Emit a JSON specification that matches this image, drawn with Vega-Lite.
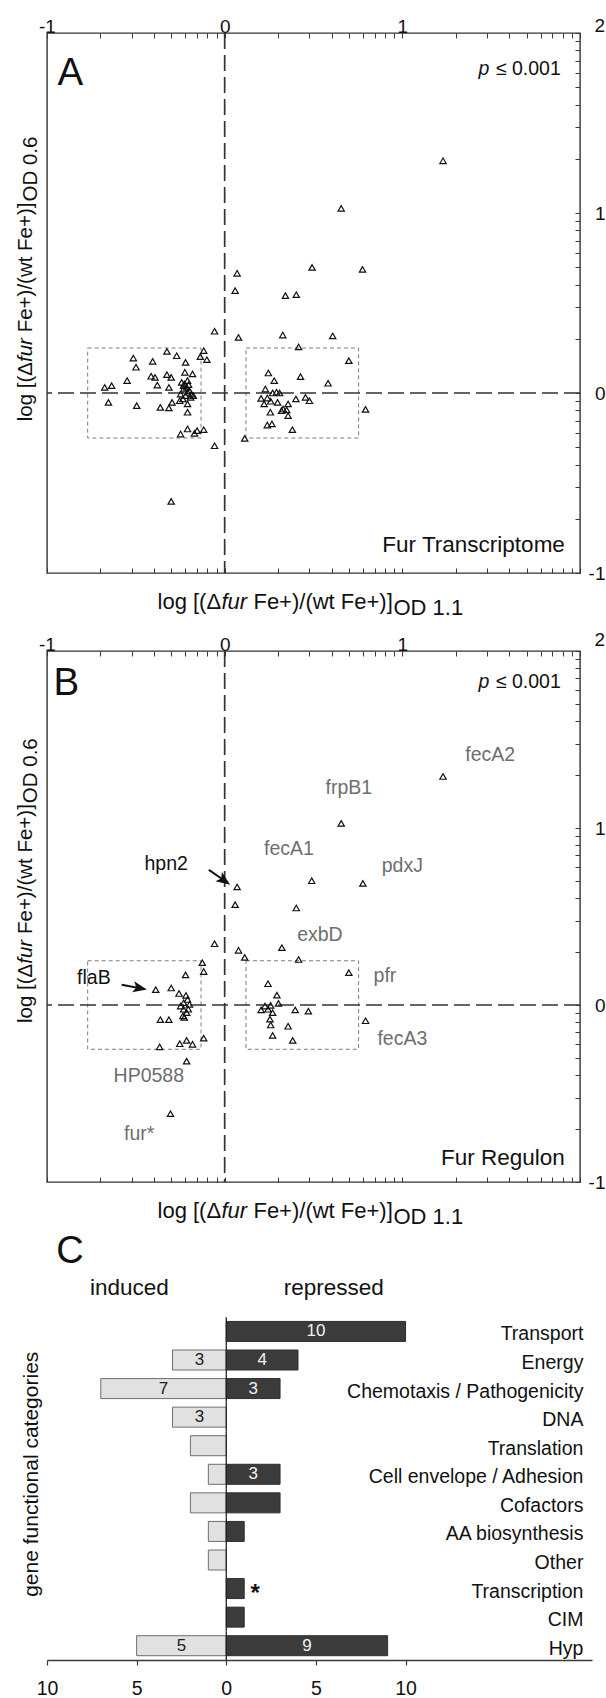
{
"$schema": "https://vega.github.io/schema/vega-lite/v6.json",
"background": "white",
"padding": {"left": 15, "top": 16, "right": 0, "bottom": 0},
"bounds": "flush",
"spacing": 78,
"config": {
  "font": "Liberation Sans",
  "view": {"stroke": null},
  "axis": {"labelFont": "Liberation Sans", "labelColor": "#111", "grid": false, "title": null, "labelFlush": false, "labelOverlap": false, "tickColor": "#3a3a3a", "domainColor": "#3a3a3a"},
  "text": {"font": "Liberation Sans", "color": "#111"}
},
"datasets": {
  "ptsA": [
    {"x":0.070,"y":0.665},{"x":0.059,"y":0.569},{"x":0.492,"y":0.698},{"x":0.776,"y":0.687},{"x":0.342,"y":0.541},{"x":0.403,"y":0.546},{"x":-0.057,"y":0.343},{"x":0.078,"y":0.309},{"x":0.327,"y":0.322},{"x":0.608,"y":0.317},{"x":0.416,"y":0.256},{"x":0.699,"y":0.180},{"x":-0.118,"y":0.235},{"x":-0.100,"y":0.185},{"x":-0.137,"y":0.202},{"x":-0.325,"y":0.231},{"x":-0.270,"y":0.207},{"x":-0.220,"y":0.170},{"x":-0.514,"y":0.194},{"x":-0.499,"y":0.143},{"x":-0.405,"y":0.176},{"x":-0.414,"y":0.093},{"x":-0.392,"y":0.087},{"x":-0.325,"y":0.102},{"x":-0.301,"y":0.087},{"x":-0.224,"y":0.115},{"x":-0.181,"y":0.106},{"x":-0.549,"y":0.069},{"x":-0.379,"y":0.044},{"x":-0.314,"y":0.031},{"x":-0.675,"y":0.031},{"x":-0.636,"y":0.041},{"x":-0.654,"y":-0.052},{"x":-0.495,"y":-0.070},{"x":-0.362,"y":-0.080},{"x":-0.314,"y":-0.083},{"x":-0.296,"y":-0.052},{"x":-0.253,"y":-0.043},{"x":-0.209,"y":-0.061},{"x":-0.209,"y":-0.107},{"x":-0.248,"y":-0.228},{"x":-0.209,"y":-0.200},{"x":-0.170,"y":-0.224},{"x":-0.155,"y":-0.209},{"x":-0.118,"y":-0.204},{"x":-0.057,"y":-0.293},
    {"x":-0.242,"y":0.059},{"x":-0.227,"y":0.050},{"x":-0.209,"y":0.069},{"x":-0.231,"y":0.022},{"x":-0.214,"y":0.031},{"x":-0.198,"y":0.013},{"x":-0.187,"y":-0.006},{"x":-0.248,"y":-0.006},{"x":-0.220,"y":-0.015},{"x":-0.192,"y":-0.024},{"x":-0.235,"y":-0.033},{"x":-0.176,"y":-0.015},{"x":-0.209,"y":0.004},{"x":-0.231,"y":0.041},{"x":-0.203,"y":0.046},
    {"x":0.246,"y":0.111},{"x":0.279,"y":0.069},{"x":0.427,"y":0.091},{"x":0.582,"y":0.054},{"x":0.229,"y":0.022},{"x":0.270,"y":0.000},{"x":0.292,"y":0.004},{"x":0.309,"y":0.000},{"x":0.205,"y":-0.030},{"x":0.240,"y":-0.028},{"x":0.222,"y":-0.061},{"x":0.259,"y":-0.046},{"x":0.298,"y":-0.052},{"x":0.329,"y":-0.089},{"x":0.357,"y":-0.061},{"x":0.401,"y":-0.033},{"x":0.455,"y":-0.024},{"x":0.477,"y":-0.043},{"x":0.320,"y":-0.098},{"x":0.349,"y":-0.094},{"x":0.257,"y":-0.107},{"x":0.357,"y":-0.126},{"x":0.240,"y":-0.178},{"x":0.266,"y":-0.172},{"x":0.381,"y":-0.204},{"x":0.113,"y":-0.252},{"x":0.793,"y":-0.091},
    {"x":1.229,"y":1.290},{"x":0.656,"y":1.026},{"x":-0.301,"y":-0.602}
  ],
  "ptsB": [
    {"x":1.229,"y":1.291},{"x":0.656,"y":1.026},{"x":0.490,"y":0.702},{"x":0.778,"y":0.687},{"x":0.070,"y":0.667},{"x":0.059,"y":0.567},{"x":0.403,"y":0.548},{"x":0.322,"y":0.324},{"x":-0.057,"y":0.346},{"x":0.078,"y":0.309},{"x":0.113,"y":0.269},{"x":0.416,"y":0.257},{"x":-0.126,"y":0.239},
    {"x":-0.118,"y":0.189},{"x":0.699,"y":0.183},{"x":-0.220,"y":0.170},{"x":-0.388,"y":0.087},{"x":-0.301,"y":0.096},{"x":-0.257,"y":0.065},{"x":-0.218,"y":0.054},{"x":-0.209,"y":0.031},{"x":-0.231,"y":0.013},{"x":-0.198,"y":0.004},{"x":-0.248,"y":-0.006},{"x":-0.205,"y":-0.024},{"x":-0.231,"y":-0.024},{"x":-0.214,"y":-0.043},{"x":-0.235,"y":-0.061},{"x":-0.227,"y":-0.070},{"x":-0.362,"y":-0.083},{"x":-0.314,"y":-0.083},{"x":-0.366,"y":-0.237},{"x":-0.253,"y":-0.219},{"x":-0.214,"y":-0.200},{"x":-0.181,"y":-0.222},{"x":-0.118,"y":-0.187},{"x":-0.214,"y":-0.317},
    {"x":0.244,"y":0.120},{"x":0.294,"y":0.056},{"x":0.303,"y":0.009},{"x":0.227,"y":-0.006},{"x":0.259,"y":-0.002},{"x":0.205,"y":-0.028},{"x":0.244,"y":-0.024},{"x":0.270,"y":-0.043},{"x":0.255,"y":-0.080},{"x":0.259,"y":-0.113},{"x":0.357,"y":-0.120},{"x":0.397,"y":-0.028},{"x":0.471,"y":-0.035},{"x":0.270,"y":-0.172},{"x":0.383,"y":-0.200},{"x":0.793,"y":-0.089},
    {"x":-0.305,"y":-0.614}
  ],
  "boxes": [
    {"x1":-0.771,"x2":-0.133,"y1":-0.25,"y2":0.25},
    {"x1":0.120,"x2":0.754,"y1":-0.25,"y2":0.25}
  ],
  "genesB": [
    {"gene":"fecA2","x":1.495,"y":1.41,"marked":"plain"},
    {"gene":"frpB1","x":0.699,"y":1.228,"marked":"plain"},
    {"gene":"fecA1","x":0.362,"y":0.879,"marked":"plain"},
    {"gene":"pdxJ","x":1.0,"y":0.785,"marked":"plain"},
    {"gene":"hpn2","x":-0.329,"y":0.794,"marked":"arrow"},
    {"gene":"exbD","x":0.536,"y":0.395,"marked":"plain"},
    {"gene":"pfr","x":0.902,"y":0.164,"marked":"plain"},
    {"gene":"flaB","x":-0.736,"y":0.154,"marked":"arrow"},
    {"gene":"fecA3","x":1.0,"y":-0.190,"marked":"plain"},
    {"gene":"HP0588","x":-0.427,"y":-0.401,"marked":"plain"},
    {"gene":"fur*","x":-0.481,"y":-0.731,"marked":"plain"}
  ],
  "arrowsB": [
    {"gene":"hpn2","x":-0.089,"y":0.763,"x2":-0.006,"y2":0.706},
    {"gene":"flaB","x":-0.580,"y":0.115,"x2":-0.482,"y2":0.096}
  ],
  "bars": [
    {"cat":"Transport","group":"repressed","n":10,"label":"10"},
    {"cat":"Energy","group":"induced","n":-3,"label":"3"},
    {"cat":"Energy","group":"repressed","n":4,"label":"4"},
    {"cat":"Chemotaxis / Pathogenicity","group":"induced","n":-7,"label":"7"},
    {"cat":"Chemotaxis / Pathogenicity","group":"repressed","n":3,"label":"3"},
    {"cat":"DNA","group":"induced","n":-3,"label":"3"},
    {"cat":"Translation","group":"induced","n":-2,"label":""},
    {"cat":"Cell envelope / Adhesion","group":"induced","n":-1,"label":""},
    {"cat":"Cell envelope / Adhesion","group":"repressed","n":3,"label":"3"},
    {"cat":"Cofactors","group":"induced","n":-2,"label":""},
    {"cat":"Cofactors","group":"repressed","n":3,"label":""},
    {"cat":"AA biosynthesis","group":"induced","n":-1,"label":""},
    {"cat":"AA biosynthesis","group":"repressed","n":1,"label":""},
    {"cat":"Other","group":"induced","n":-1,"label":""},
    {"cat":"Transcription","group":"repressed","n":1,"label":""},
    {"cat":"CIM","group":"repressed","n":1,"label":""},
    {"cat":"Hyp","group":"induced","n":-5,"label":"5"},
    {"cat":"Hyp","group":"repressed","n":9,"label":"9"}
  ],
  "cats": [
    {"cat":"Transport"},{"cat":"Energy"},{"cat":"Chemotaxis / Pathogenicity"},{"cat":"DNA"},{"cat":"Translation"},{"cat":"Cell envelope / Adhesion"},{"cat":"Cofactors"},{"cat":"AA biosynthesis"},{"cat":"Other"},{"cat":"Transcription"},{"cat":"CIM"},{"cat":"Hyp"}
  ]
},
"vconcat": [
{
  "width": 533, "height": 540,
  "view": {"stroke": "#333333", "strokeWidth": 1.4},
  "resolve": {"axis": {"x": "independent", "y": "independent"}},
  "layer": [
    {"data": {"name": "boxes"}, "mark": {"type": "rect", "fillOpacity": 0, "stroke": "#7e7e7e", "strokeDash": [4, 3], "strokeWidth": 1},
     "encoding": {"x": {"field": "x1", "type": "quantitative", "scale": {"domain": [-1, 2], "nice": false, "zero": false}, "axis": {"orient": "top", "values": [-1,-0.699,-0.5229,-0.3979,-0.301,-0.2218,-0.1549,-0.0969,-0.0458,0,0.301,0.4771,0.6021,0.699,0.7782,0.8451,0.9031,0.9542,1,1.301,1.4771,1.6021,1.699,1.7782,1.8451,1.9031,1.9542,2], "labelExpr": "datum.value == -1 ? '-1' : datum.value == 0 ? '0' : datum.value == 1 ? '1' : ''", "tickSize": -5, "labelPadding": 2, "domain": false, "labelFontSize": 19, "labelAngle": 0}},
                  "x2": {"field": "x2"},
                  "y": {"field": "y1", "type": "quantitative", "scale": {"domain": [-1, 2], "nice": false, "zero": false}, "axis": {"orient": "right", "values": [-1,-0.699,-0.5229,-0.3979,-0.301,-0.2218,-0.1549,-0.0969,-0.0458,0,0.301,0.4771,0.6021,0.699,0.7782,0.8451,0.9031,0.9542,1,1.301,1.4771,1.6021,1.699,1.7782,1.8451,1.9031,1.9542,2], "labelExpr": "datum.value == -1 ? '-1' : datum.value == 0 ? '0' : datum.value == 1 ? '1' : ''", "tickSize": -5, "labelPadding": 30, "labelAlign": "right", "labelBaseline": "middle", "domain": false, "labelFontSize": 19}},
                  "y2": {"field": "y2"}}},
    {"data": {"values": [{}]}, "mark": {"type": "rule", "strokeDash": [16, 6], "strokeWidth": 1.7, "color": "#333333"},
     "encoding": {"x": {"datum": 0, "type": "quantitative", "axis": {"orient": "bottom", "values": [-1,-0.699,-0.5229,-0.3979,-0.301,-0.2218,-0.1549,-0.0969,-0.0458,0,0.301,0.4771,0.6021,0.699,0.7782,0.8451,0.9031,0.9542,1,1.301,1.4771,1.6021,1.699,1.7782,1.8451,1.9031,1.9542,2], "labels": false, "tickSize": -5, "domain": false}}}},
    {"data": {"values": [{}]}, "mark": {"type": "rule", "strokeDash": [16, 6], "strokeWidth": 1.7, "color": "#333333"},
     "encoding": {"y": {"datum": 0, "type": "quantitative", "axis": null}}},
    {"data": {"name": "ptsA"}, "mark": {"type": "point", "shape": "triangle-up", "size": 40, "filled": false, "color": "#111", "strokeWidth": 1.2, "opacity": 1},
     "encoding": {"x": {"field": "x", "type": "quantitative", "axis": null}, "y": {"field": "y", "type": "quantitative", "axis": null}}},
    {"data": {"values": [{}]}, "mark": {"type": "text", "text": "2", "fontSize": 19, "align": "right", "baseline": "middle"},
     "encoding": {"x": {"datum": 2.141, "type": "quantitative", "axis": null}, "y": {"datum": 2.039, "type": "quantitative", "axis": null}}},
    {"data": {"values": [{}]}, "mark": {"type": "text", "text": "A", "fontSize": 38.5, "align": "left", "baseline": "alphabetic"},
     "encoding": {"x": {"datum": -0.941, "type": "quantitative", "axis": null}, "y": {"datum": 1.711, "type": "quantitative", "axis": null}}},
    {"data": {"values": [{}]}, "mark": {"type": "text", "text": "p", "fontStyle": "italic", "fontSize": 19.5, "align": "right", "baseline": "alphabetic"},
     "encoding": {"x": {"datum": 1.49, "type": "quantitative", "axis": null}, "y": {"datum": 1.768, "type": "quantitative", "axis": null}}},
    {"data": {"values": [{}]}, "mark": {"type": "text", "text": "≤ 0.001", "fontSize": 19.5, "align": "right", "baseline": "alphabetic"},
     "encoding": {"x": {"datum": 1.892, "type": "quantitative", "axis": null}, "y": {"datum": 1.768, "type": "quantitative", "axis": null}}},
    {"data": {"values": [{}]}, "mark": {"type": "text", "text": "Fur Transcriptome", "fontSize": 22.5, "align": "right", "baseline": "alphabetic"},
     "encoding": {"x": {"datum": 1.915, "type": "quantitative", "axis": null}, "y": {"datum": -0.885, "type": "quantitative", "axis": null}}},
    {"data": {"values": [{}]}, "mark": {"type": "text", "text": "log [(Δ", "fontSize": 22, "align": "left", "baseline": "alphabetic"},
     "encoding": {"x": {"datum": -0.378, "type": "quantitative", "axis": null}, "y": {"datum": -1.2, "type": "quantitative", "axis": null}}},
    {"data": {"values": [{}]}, "mark": {"type": "text", "text": "fur", "fontStyle": "italic", "fontSize": 22, "align": "left", "baseline": "alphabetic"},
     "encoding": {"x": {"datum": -0.018, "type": "quantitative", "axis": null}, "y": {"datum": -1.2, "type": "quantitative", "axis": null}}},
    {"data": {"values": [{}]}, "mark": {"type": "text", "text": "Fe+)/(wt Fe+)]", "fontSize": 22, "align": "left", "baseline": "alphabetic"},
     "encoding": {"x": {"datum": 0.162, "type": "quantitative", "axis": null}, "y": {"datum": -1.2, "type": "quantitative", "axis": null}}},
    {"data": {"values": [{}]}, "mark": {"type": "text", "text": "OD 1.1", "fontSize": 22, "align": "left", "baseline": "alphabetic"},
     "encoding": {"x": {"datum": 0.950, "type": "quantitative", "axis": null}, "y": {"datum": -1.232, "type": "quantitative", "axis": null}}},
    {"data": {"values": [{}]}, "mark": {"type": "text", "text": "log [(Δ", "fontSize": 20.5, "angle": 270, "align": "left", "baseline": "middle"},
     "encoding": {"x": {"datum": -1.116, "type": "quantitative", "axis": null}, "y": {"datum": -0.157, "type": "quantitative", "axis": null}}},
    {"data": {"values": [{}]}, "mark": {"type": "text", "text": "fur", "fontStyle": "italic", "fontSize": 20.5, "angle": 270, "align": "left", "baseline": "middle"},
     "encoding": {"x": {"datum": -1.116, "type": "quantitative", "axis": null}, "y": {"datum": 0.172, "type": "quantitative", "axis": null}}},
    {"data": {"values": [{}]}, "mark": {"type": "text", "text": "Fe+)/(wt Fe+)]", "fontSize": 20.5, "angle": 270, "align": "left", "baseline": "middle"},
     "encoding": {"x": {"datum": -1.116, "type": "quantitative", "axis": null}, "y": {"datum": 0.337, "type": "quantitative", "axis": null}}},
    {"data": {"values": [{}]}, "mark": {"type": "text", "text": "OD 0.6", "fontSize": 20.5, "angle": 270, "align": "left", "baseline": "middle"},
     "encoding": {"x": {"datum": -1.092, "type": "quantitative", "axis": null}, "y": {"datum": 1.064, "type": "quantitative", "axis": null}}}
  ]
},
{
  "width": 533, "height": 531,
  "view": {"stroke": "#333333", "strokeWidth": 1.4},
  "resolve": {"axis": {"x": "independent", "y": "independent"}},
  "layer": [
    {"data": {"name": "boxes"}, "mark": {"type": "rect", "fillOpacity": 0, "stroke": "#7e7e7e", "strokeDash": [4, 3], "strokeWidth": 1},
     "encoding": {"x": {"field": "x1", "type": "quantitative", "scale": {"domain": [-1, 2], "nice": false, "zero": false}, "axis": {"orient": "top", "values": [-1,-0.699,-0.5229,-0.3979,-0.301,-0.2218,-0.1549,-0.0969,-0.0458,0,0.301,0.4771,0.6021,0.699,0.7782,0.8451,0.9031,0.9542,1,1.301,1.4771,1.6021,1.699,1.7782,1.8451,1.9031,1.9542,2], "labelExpr": "datum.value == -1 ? '-1' : datum.value == 0 ? '0' : datum.value == 1 ? '1' : ''", "tickSize": -5, "labelPadding": 2, "domain": false, "labelFontSize": 19, "labelAngle": 0}},
                  "x2": {"field": "x2"},
                  "y": {"field": "y1", "type": "quantitative", "scale": {"domain": [-1, 2], "nice": false, "zero": false}, "axis": {"orient": "right", "values": [-1,-0.699,-0.5229,-0.3979,-0.301,-0.2218,-0.1549,-0.0969,-0.0458,0,0.301,0.4771,0.6021,0.699,0.7782,0.8451,0.9031,0.9542,1,1.301,1.4771,1.6021,1.699,1.7782,1.8451,1.9031,1.9542,2], "labelExpr": "datum.value == -1 ? '-1' : datum.value == 0 ? '0' : datum.value == 1 ? '1' : ''", "tickSize": -5, "labelPadding": 30, "labelAlign": "right", "labelBaseline": "middle", "domain": false, "labelFontSize": 19}},
                  "y2": {"field": "y2"}}},
    {"data": {"values": [{}]}, "mark": {"type": "rule", "strokeDash": [16, 6], "strokeWidth": 1.7, "color": "#333333"},
     "encoding": {"x": {"datum": 0, "type": "quantitative", "axis": {"orient": "bottom", "values": [-1,-0.699,-0.5229,-0.3979,-0.301,-0.2218,-0.1549,-0.0969,-0.0458,0,0.301,0.4771,0.6021,0.699,0.7782,0.8451,0.9031,0.9542,1,1.301,1.4771,1.6021,1.699,1.7782,1.8451,1.9031,1.9542,2], "labels": false, "tickSize": -5, "domain": false}}}},
    {"data": {"values": [{}]}, "mark": {"type": "rule", "strokeDash": [16, 6], "strokeWidth": 1.7, "color": "#333333"},
     "encoding": {"y": {"datum": 0, "type": "quantitative", "axis": null}}},
    {"data": {"name": "ptsB"}, "mark": {"type": "point", "shape": "triangle-up", "size": 40, "filled": false, "color": "#111", "strokeWidth": 1.2, "opacity": 1},
     "encoding": {"x": {"field": "x", "type": "quantitative", "axis": null}, "y": {"field": "y", "type": "quantitative", "axis": null}}},
    {"data": {"name": "genesB"}, "mark": {"type": "text", "fontSize": 19.5, "align": "center", "baseline": "middle"},
     "encoding": {"x": {"field": "x", "type": "quantitative", "axis": null}, "y": {"field": "y", "type": "quantitative", "axis": null}, "text": {"field": "gene"},
                  "color": {"field": "marked", "type": "nominal", "scale": {"domain": ["plain", "arrow"], "range": ["#6e6e6e", "#111111"]}, "legend": null}}},
    {"data": {"name": "arrowsB"}, "mark": {"type": "rule", "strokeWidth": 2, "color": "#111"},
     "encoding": {"x": {"field": "x", "type": "quantitative", "axis": null}, "y": {"field": "y", "type": "quantitative", "axis": null}, "x2": {"field": "x2"}, "y2": {"field": "y2"}}},
    {"data": {"values": [{}]}, "mark": {"type": "point", "shape": "M0,-1L0.7,0.75L0,0.35L-0.7,0.75Z", "size": 256, "filled": true, "color": "#111", "opacity": 1, "angle": 125},
     "encoding": {"x": {"datum": -0.006, "type": "quantitative", "axis": null}, "y": {"datum": 0.706, "type": "quantitative", "axis": null}}},
    {"data": {"values": [{}]}, "mark": {"type": "point", "shape": "M0,-1L0.7,0.75L0,0.35L-0.7,0.75Z", "size": 256, "filled": true, "color": "#111", "opacity": 1, "angle": 101},
     "encoding": {"x": {"datum": -0.482, "type": "quantitative", "axis": null}, "y": {"datum": 0.096, "type": "quantitative", "axis": null}}},
    {"data": {"values": [{}]}, "mark": {"type": "text", "text": "2", "fontSize": 19, "align": "right", "baseline": "middle"},
     "encoding": {"x": {"datum": 2.141, "type": "quantitative", "axis": null}, "y": {"datum": 2.064, "type": "quantitative", "axis": null}}},
    {"data": {"values": [{}]}, "mark": {"type": "text", "text": "B", "fontSize": 38.5, "align": "left", "baseline": "alphabetic"},
     "encoding": {"x": {"datum": -0.963, "type": "quantitative", "axis": null}, "y": {"datum": 1.751, "type": "quantitative", "axis": null}}},
    {"data": {"values": [{}]}, "mark": {"type": "text", "text": "p", "fontStyle": "italic", "fontSize": 19.5, "align": "right", "baseline": "alphabetic"},
     "encoding": {"x": {"datum": 1.49, "type": "quantitative", "axis": null}, "y": {"datum": 1.791, "type": "quantitative", "axis": null}}},
    {"data": {"values": [{}]}, "mark": {"type": "text", "text": "≤ 0.001", "fontSize": 19.5, "align": "right", "baseline": "alphabetic"},
     "encoding": {"x": {"datum": 1.892, "type": "quantitative", "axis": null}, "y": {"datum": 1.791, "type": "quantitative", "axis": null}}},
    {"data": {"values": [{}]}, "mark": {"type": "text", "text": "Fur Regulon", "fontSize": 22.5, "align": "right", "baseline": "alphabetic"},
     "encoding": {"x": {"datum": 1.915, "type": "quantitative", "axis": null}, "y": {"datum": -0.902, "type": "quantitative", "axis": null}}},
    {"data": {"values": [{}]}, "mark": {"type": "text", "text": "log [(Δ", "fontSize": 22, "align": "left", "baseline": "alphabetic"},
     "encoding": {"x": {"datum": -0.378, "type": "quantitative", "axis": null}, "y": {"datum": -1.203, "type": "quantitative", "axis": null}}},
    {"data": {"values": [{}]}, "mark": {"type": "text", "text": "fur", "fontStyle": "italic", "fontSize": 22, "align": "left", "baseline": "alphabetic"},
     "encoding": {"x": {"datum": -0.018, "type": "quantitative", "axis": null}, "y": {"datum": -1.203, "type": "quantitative", "axis": null}}},
    {"data": {"values": [{}]}, "mark": {"type": "text", "text": "Fe+)/(wt Fe+)]", "fontSize": 22, "align": "left", "baseline": "alphabetic"},
     "encoding": {"x": {"datum": 0.162, "type": "quantitative", "axis": null}, "y": {"datum": -1.203, "type": "quantitative", "axis": null}}},
    {"data": {"values": [{}]}, "mark": {"type": "text", "text": "OD 1.1", "fontSize": 22, "align": "left", "baseline": "alphabetic"},
     "encoding": {"x": {"datum": 0.950, "type": "quantitative", "axis": null}, "y": {"datum": -1.237, "type": "quantitative", "axis": null}}},
    {"data": {"values": [{}]}, "mark": {"type": "text", "text": "log [(Δ", "fontSize": 20.5, "angle": 270, "align": "left", "baseline": "middle"},
     "encoding": {"x": {"datum": -1.116, "type": "quantitative", "axis": null}, "y": {"datum": -0.102, "type": "quantitative", "axis": null}}},
    {"data": {"values": [{}]}, "mark": {"type": "text", "text": "fur", "fontStyle": "italic", "fontSize": 20.5, "angle": 270, "align": "left", "baseline": "middle"},
     "encoding": {"x": {"datum": -1.116, "type": "quantitative", "axis": null}, "y": {"datum": 0.233, "type": "quantitative", "axis": null}}},
    {"data": {"values": [{}]}, "mark": {"type": "text", "text": "Fe+)/(wt Fe+)]", "fontSize": 20.5, "angle": 270, "align": "left", "baseline": "middle"},
     "encoding": {"x": {"datum": -1.116, "type": "quantitative", "axis": null}, "y": {"datum": 0.401, "type": "quantitative", "axis": null}}},
    {"data": {"values": [{}]}, "mark": {"type": "text", "text": "OD 0.6", "fontSize": 20.5, "angle": 270, "align": "left", "baseline": "middle"},
     "encoding": {"x": {"datum": -1.092, "type": "quantitative", "axis": null}, "y": {"datum": 1.140, "type": "quantitative", "axis": null}}}
  ]
},
{
  "width": 545, "height": 400,
  "view": {"stroke": null},
  "resolve": {"scale": {"x": "independent"}, "axis": {"x": "independent"}},
  "layer": [
    {"layer": [
      {"data": {"name": "bars"}, "mark": {"type": "bar", "height": {"band": 0.7}, "strokeWidth": 1},
       "encoding": {
         "y": {"field": "cat", "type": "nominal", "scale": {"type": "band", "domain": ["_C", "_head", "Transport", "Energy", "Chemotaxis / Pathogenicity", "DNA", "Translation", "Cell envelope / Adhesion", "Cofactors", "AA biosynthesis", "Other", "Transcription", "CIM", "Hyp"], "paddingInner": 0, "paddingOuter": 0}, "axis": null},
         "x": {"field": "n", "type": "quantitative", "scale": {"domain": [-10, 20.4], "nice": false}, "axis": {"orient": "bottom", "values": [-10, -5, 0, 5, 10], "labelExpr": "'' + abs(datum.value)", "tickSize": 5, "labelPadding": 14, "labelFontSize": 19.5, "domainWidth": 1.3, "tickWidth": 1.2}},
         "fill": {"field": "group", "type": "nominal", "scale": {"domain": ["induced", "repressed"], "range": ["#e1e1e1", "#3b3b3b"]}, "legend": null},
         "stroke": {"field": "group", "type": "nominal", "scale": {"domain": ["induced", "repressed"], "range": ["#6e6e6e", "#2e2e2e"]}, "legend": null}}},
      {"data": {"name": "cats"}, "mark": {"type": "tick", "orient": "vertical", "size": 28.6, "thickness": 1.3, "color": "#222", "opacity": 1},
       "encoding": {"x": {"datum": 0, "type": "quantitative"}, "y": {"field": "cat", "type": "nominal"}}},
      {"data": {"name": "cats"}, "mark": {"type": "text", "align": "right", "baseline": "middle", "fontSize": 19.5, "dy": 3},
       "encoding": {"x": {"datum": 19.92, "type": "quantitative"}, "y": {"field": "cat", "type": "nominal"}, "text": {"field": "cat"}}},
      {"data": {"values": [{}]}, "mark": {"type": "text", "text": "*", "fontSize": 24, "fontWeight": "bold", "align": "center", "baseline": "middle", "dy": 5},
       "encoding": {"x": {"datum": 1.61, "type": "quantitative"}, "y": {"datum": "Transcription", "type": "nominal"}}},
      {"data": {"values": [{}]}, "mark": {"type": "text", "text": "C", "fontSize": 38, "align": "left", "baseline": "bottom", "dy": -3},
       "encoding": {"x": {"datum": -9.49, "type": "quantitative"}, "y": {"datum": "_C", "type": "nominal"}}},
      {"data": {"values": [{}]}, "mark": {"type": "text", "text": "induced", "fontSize": 22.5, "align": "center", "baseline": "bottom", "dy": -3},
       "encoding": {"x": {"datum": -5.4, "type": "quantitative"}, "y": {"datum": "_head", "type": "nominal"}}},
      {"data": {"values": [{}]}, "mark": {"type": "text", "text": "repressed", "fontSize": 22.5, "align": "center", "baseline": "bottom", "dy": -3},
       "encoding": {"x": {"datum": 6.0, "type": "quantitative"}, "y": {"datum": "_head", "type": "nominal"}}},
      {"data": {"values": [{}]}, "mark": {"type": "text", "text": "gene functional categories", "fontSize": 21, "angle": 270, "align": "center", "baseline": "middle"},
       "encoding": {"x": {"datum": -10.82, "type": "quantitative"}, "y": {"datum": "Cell envelope / Adhesion", "type": "nominal"}}}
    ]},
    {"data": {"name": "bars"}, "transform": [{"filter": "datum.group == 'induced'"}],
     "mark": {"type": "text", "fontSize": 17, "align": "center", "baseline": "middle", "color": "#222222"},
     "encoding": {
       "x": {"field": "n", "type": "quantitative", "scale": {"domain": [-20, 40.8], "nice": false}, "axis": null},
       "y": {"field": "cat", "type": "nominal"},
       "text": {"field": "label"}}},
    {"data": {"name": "bars"}, "transform": [{"filter": "datum.group == 'repressed'"}],
     "mark": {"type": "text", "fontSize": 17, "align": "center", "baseline": "middle", "color": "#f2f2f2"},
     "encoding": {
       "x": {"field": "n", "type": "quantitative", "scale": {"domain": [-20, 40.8], "nice": false}, "axis": null},
       "y": {"field": "cat", "type": "nominal"},
       "text": {"field": "label"}}}
  ]
}
]
}
